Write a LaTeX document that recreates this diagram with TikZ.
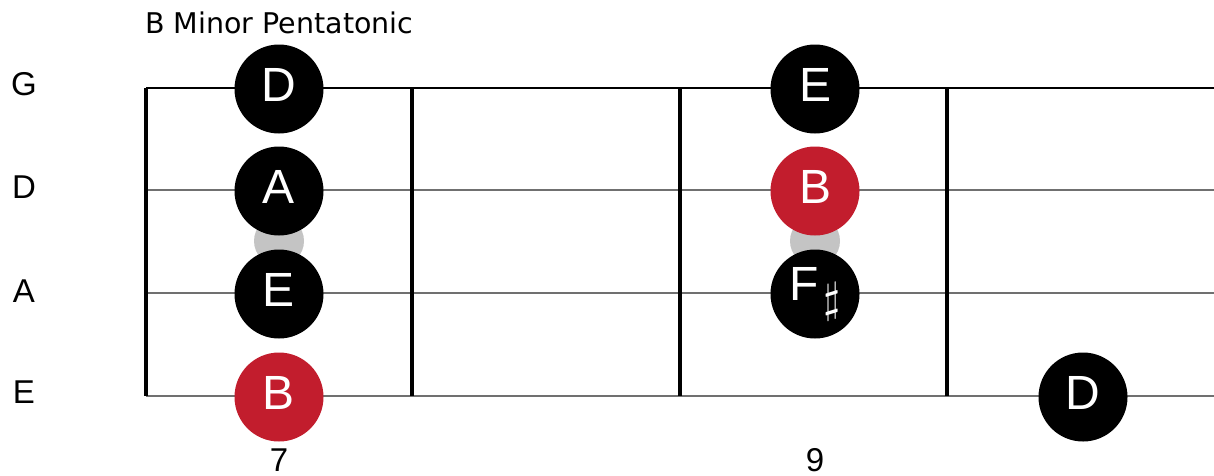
\documentclass[tikz,border=0pt]{standalone}
\usepackage{fontspec}
\usepackage{graphicx}
\setmainfont{Liberation Sans}
\newfontfamily\titlefont{DejaVu Sans}
\definecolor{rootred}{HTML}{C21D2D}
\definecolor{markgray}{HTML}{C4C4C4}
\definecolor{stringgray}{HTML}{707070}

\tikzset{
  note/.style={circle, fill=black, text=white, minimum size=89pt, inner sep=0pt,
    text depth=9pt, font=\fontsize{48}{48}\selectfont},
  rootnote/.style={note, fill=rootred},
  fretline/.style={line width=3.5pt},
  stringline/.style={line width=1.3pt},
  marker/.style={circle, fill=markgray, minimum size=50pt, inner sep=0pt},
  stringname/.style={anchor=base, inner sep=0pt, font=\fontsize{33}{33}\selectfont},
  fretnum/.style={anchor=base, inner sep=0pt, font=\fontsize{33}{33}\selectfont}
}

\begin{document}
\begin{tikzpicture}[x=1pt, y=-1pt]

\useasboundingbox (0,0) rectangle (1214,475);

% Title
\node[anchor=base west, inner sep=0pt, font=\titlefont\fontsize{28.5}{28.5}\selectfont] (title) at (145,33) {B Minor Pentatonic};

% Strings
\draw[stringline] (146,88) -- (1214,88);
\foreach \y in {190,293,396} {
    \draw[stringline, stringgray] (146,\y) -- (1214,\y);
}

% Frets
\foreach \x in {146,412,680,947} {
    \draw[fretline] (\x,88) -- (\x,396);
}

% String names
\node[stringname] (nameG) at (24,95) {G};
\node[stringname] (nameD) at (24,198) {D};
\node[stringname] (nameA) at (24,302) {A};
\node[stringname] (nameE) at (24,403) {E};

% Fret markers
\node[marker] (mark7) at (279,241) {};
\node[marker] (mark9) at (815,241) {};

% Notes at fret 7
\node[note] (noteG7) at (279,89) {D};
\node[note] (noteD7) at (279,191) {A};
\node[note] (noteA7) at (279,294) {E};
\node[rootnote] (noteE7) at (279,397) {B};

% Notes at fret 9
\node[note] (noteG9) at (815,89) {E};
\node[rootnote] (noteD9) at (815,191) {B};
\node[note, text depth=20pt] (noteA9) at (815,294) {F\hspace{4pt}\raisebox{-12pt}{\scalebox{4.3}{\fontsize{10}{12}\selectfont$\sharp$}}};

% Note at fret 10
\node[note] (noteE10) at (1083,397) {D};

% Fret numbers
\node[fretnum] (num7) at (279,471) {7};
\node[fretnum] (num9) at (815,471) {9};

\end{tikzpicture}
\end{document}
